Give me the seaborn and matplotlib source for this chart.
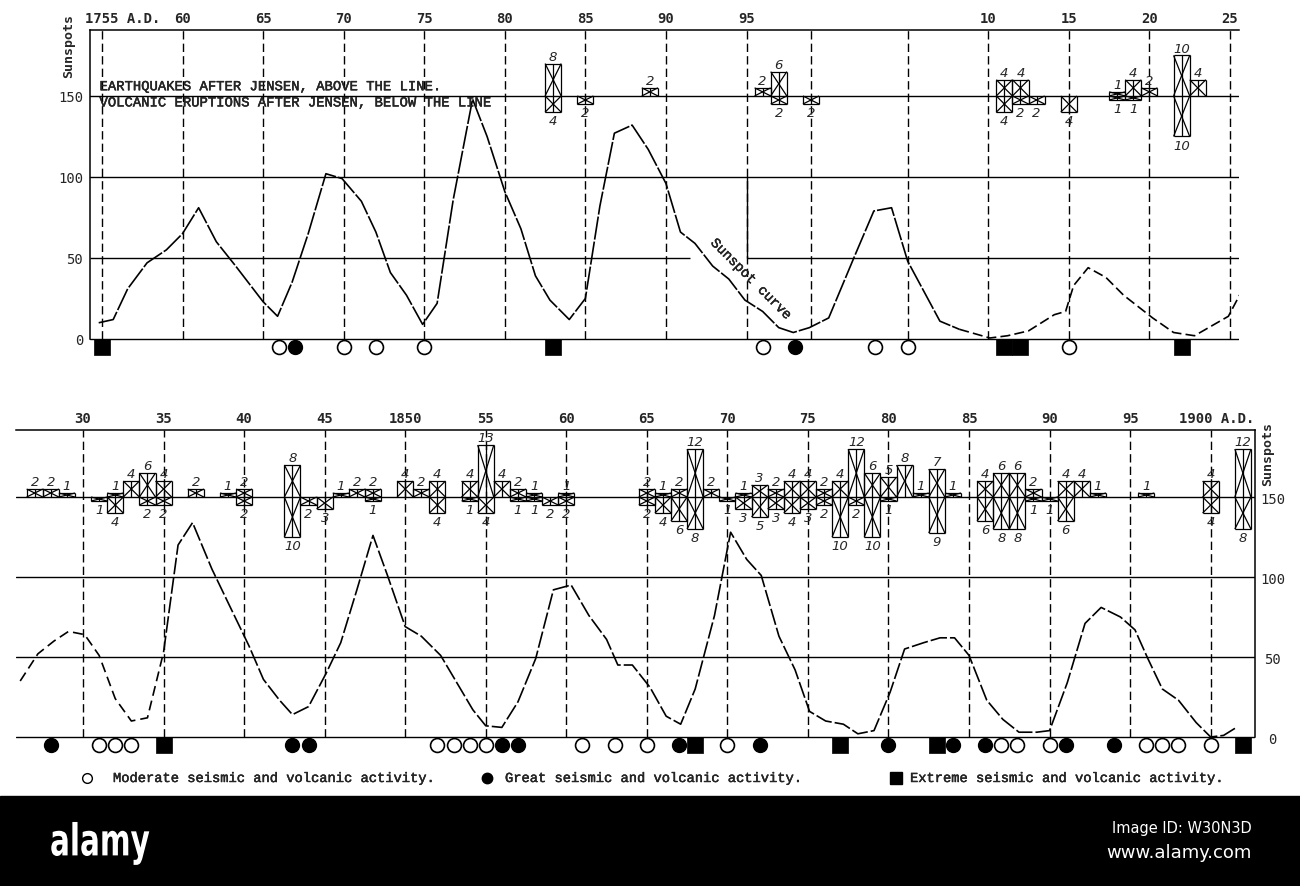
import matplotlib
matplotlib.use('Agg')
import matplotlib.pyplot as plt
import matplotlib.patheffects as pe
from matplotlib.collections import LineCollection
from matplotlib.patches import Rectangle, PathPatch
from matplotlib.lines import Line2D
from matplotlib.textpath import TextPath
from matplotlib.font_manager import FontProperties
from matplotlib.transforms import Affine2D, IdentityTransform
import numpy as np
import seaborn as sns

# sunspot curve, upper panel 1755-1825
top_years = [1754.8, 1755.7, 1756.6, 1757.8, 1759.0, 1760.0, 1761.0, 1762.1, 1763.3, 1765.0,
             1765.9, 1766.8, 1767.8, 1768.9, 1769.9, 1771.1, 1772.0, 1772.9, 1773.9, 1774.9,
             1775.8, 1776.8, 1778.0, 1778.9, 1780.0, 1781.0, 1781.9, 1782.8, 1784.0, 1785.0,
             1785.9, 1786.8, 1787.9, 1788.9, 1790.0, 1790.9, 1791.8, 1792.9, 1793.9, 1794.9,
             1796.0, 1797.0, 1797.9, 1798.9, 1800.1, 1801.7, 1802.9, 1804.0, 1805.0, 1807.0,
             1808.2, 1810.1, 1811.2, 1812.5, 1814.1, 1814.8, 1815.3, 1816.2, 1817.3, 1818.4,
             1820.2, 1821.5, 1822.8, 1824.9, 1825.7]
top_spots = [10, 12, 31, 47, 55, 65, 81, 60, 45, 23,
             14, 35, 65, 102, 99, 85, 66, 41, 27, 9,
             22, 86, 148, 125, 91, 68, 39, 24, 12, 25,
             82, 127, 132, 117, 96, 66, 59, 45, 37, 24,
             17, 7, 4, 7, 13, 51, 79, 81, 48, 11,
             6, 0.6, 2, 5, 15, 17, 33, 44, 38, 27,
             13, 4, 2, 14, 29]

# lower panel 1826-1902
bot_years = [1826.1, 1827.2, 1828.2, 1829.1, 1830.1, 1831.0, 1832.0, 1833.0, 1834.0, 1835.0,
             1835.9, 1836.8, 1838.0, 1839.1, 1840.3, 1841.2, 1842.2, 1843.0, 1844.0, 1845.1,
             1846.0, 1847.0, 1848.0, 1848.9, 1850.0, 1851.0, 1852.2, 1853.2, 1854.2, 1855.0,
             1856.0, 1857.0, 1858.1, 1859.2, 1860.3, 1861.4, 1862.5, 1863.2, 1864.1, 1865.2,
             1866.2, 1867.1, 1868.0, 1869.2, 1870.2, 1871.2, 1872.1, 1873.2, 1874.2, 1875.1,
             1876.1, 1877.2, 1878.1, 1879.1, 1880.1, 1881.0, 1882.2, 1883.2, 1884.1, 1885.0,
             1886.1, 1887.1, 1888.1, 1889.2, 1890.0, 1891.1, 1892.2, 1893.2, 1894.4, 1895.3,
             1896.1, 1897.0, 1898.0, 1899.1, 1900.0, 1900.8, 1901.6]
bot_spots = [35, 52, 60, 66, 64, 51, 24, 10, 12, 53,
             120, 134, 105, 82, 57, 36, 23, 14, 19, 40,
             59, 92, 126, 101, 69, 63, 51, 34, 17, 7,
             6, 22, 49, 92, 95, 76, 61, 45, 45, 31,
             13, 8, 30, 76, 128, 111, 101, 63, 42, 16,
             10, 8, 2, 4, 28, 55, 59, 62, 62, 51,
             23, 11, 3, 3, 4, 34, 71, 81, 75, 67,
             49, 30, 23, 9, 0, 1, 6]

# earthquakes (above the 150 line) and volcanic eruptions (below it), after Jensen
top_box_years = [1783, 1785, 1789, 1796, 1797, 1799, 1811, 1812, 1813, 1815, 1818, 1819, 1820, 1822, 1823]
top_quakes    = [8, 0, 2, 2, 6, 0, 4, 4, 0, 0, 1, 4, 2, 10, 4]
top_erupts    = [4, 2, 0, 0, 2, 2, 4, 2, 2, 4, 1, 1, 0, 10, 0]

bot_box_years = [1827, 1828, 1829, 1831, 1832, 1833, 1834, 1835, 1837, 1839, 1840, 1843, 1844,
                 1845, 1846, 1847, 1848, 1850, 1851, 1852, 1854, 1855, 1856, 1857, 1858, 1859,
                 1860, 1865, 1866, 1867, 1868, 1869, 1870, 1871, 1872, 1873, 1874, 1875, 1876,
                 1877, 1878, 1879, 1880, 1881, 1882, 1883, 1884, 1886, 1887, 1888, 1889, 1890,
                 1891, 1892, 1893, 1896, 1900, 1902]
bot_quakes    = [2, 2, 1, 0, 1, 4, 6, 4, 2, 1, 2, 8, 0,
                 0, 1, 2, 2, 4, 2, 4, 4, 13, 4, 2, 1, 0,
                 1, 2, 1, 2, 12, 2, 0, 1, 3, 2, 4, 4, 2,
                 4, 12, 6, 5, 8, 1, 7, 1, 4, 6, 6, 2, 0,
                 4, 4, 1, 1, 4, 12]
bot_erupts    = [0, 0, 0, 1, 4, 0, 2, 2, 0, 0, 2, 10, 2,
                 3, 0, 0, 1, 0, 0, 4, 1, 4, 0, 1, 1, 2,
                 2, 2, 4, 6, 8, 0, 1, 3, 5, 3, 4, 3, 2,
                 10, 2, 10, 1, 0, 0, 9, 0, 6, 8, 8, 1, 1,
                 6, 0, 0, 0, 4, 8]

# seismic / volcanic activity marks under the zero line
top_moderate = [1766, 1770, 1772, 1775, 1796, 1803, 1805, 1815]
top_great    = [1767, 1798]
top_extreme  = [1755, 1783, 1811, 1812, 1822]
bot_moderate = [1831, 1832, 1833, 1852, 1853, 1854, 1855, 1861, 1863, 1865, 1870,
                1887, 1888, 1890, 1896, 1897, 1898, 1900]
bot_great    = [1828, 1843, 1844, 1856, 1857, 1867, 1872, 1880, 1884, 1886, 1891, 1894]
bot_extreme  = [1835, 1868, 1877, 1883, 1902]

top_grid_years = [1755, 1760, 1765, 1770, 1775, 1780, 1785, 1790, 1795, 1799, 1805,
                  1810, 1815, 1820, 1825]
top_tick_years = [1760, 1765, 1770, 1775, 1780, 1785, 1790, 1795, 1810, 1815, 1820, 1825]
top_tick_labels = ['60', '65', '70', '75', '80', '85', '90', '95', '10', '15', '20', '25']
bot_grid_years = [1830, 1835, 1840, 1845, 1850, 1855, 1860, 1865, 1870, 1875, 1880,
                  1885, 1890, 1895, 1900]
bot_tick_years = [1830, 1835, 1840, 1845, 1850, 1855, 1860, 1865, 1870, 1875, 1880,
                  1885, 1890, 1895]
bot_tick_labels = ['30', '35', '40', '45', '1850', '55', '60', '65', '70', '75', '80',
                   '85', '90', '95']
spot_ticks = [0, 50, 100, 150]
spot_tick_labels = ['0', '50', '100', '150']

LINE = 150      # the earthquake / eruption base line
UNIT = 2.5      # sunspot units per event drawn in a box
BOX_W = 1.0
MARK_Y = -5

sns.set_style('white')
plt.rcParams['font.family'] = ['Liberation Mono', 'DejaVu Sans']

W, H = 1300, 887
fig = plt.figure(figsize=(13, 8.87), dpi=100)

# upper panel, 1755-1825
ax1 = fig.add_axes([90 / W, (H - 357.8) / H, 1149 / W, (357.8 - 31) / H])
ax1.set_xlim(1754.26, 1825.56)
ax1.set_ylim(-11, 190.7)
# lower panel, 1826-1902
ax2 = fig.add_axes([16 / W, (H - 756.4) / H, 1238.5 / W, (756.4 - 431) / H])
ax2.set_xlim(1825.84, 1902.72)
ax2.set_ylim(-11.5, 191.9)

tick_font = dict(family='DejaVu Sans Mono', fontweight='bold', fontsize=10)
hand = dict(family='DejaVu Sans', fontstyle='italic', fontsize=9.5)
# typewriter ink is a little heavier than Liberation Mono
ink = [pe.withStroke(linewidth=0.3, foreground='k')]


def draw_frame(ax, grid_years, side):
    top = ax.get_ylim()[1]
    for s in ax.spines.values():
        s.set_visible(False)
    ax.spines['top'].set_visible(True)
    ax.spines[side].set_visible(True)
    ax.spines[side].set_bounds(0, top)
    for s in ax.spines.values():
        s.set_linewidth(1.1)
        s.set_color('k')
    ax.vlines(grid_years, 0, top, colors='k', linewidth=1.0, linestyles=(0, (6, 3)), zorder=1)
    for v in [0, 100, 150]:
        ax.axhline(v, color='k', lw=1.0, zorder=1)


def draw_curve(ax, years, spots, split, style_a, style_b):
    yrs = np.array(years)
    sp = np.array(spots)
    a = yrs <= split
    b = yrs >= split
    sns.lineplot(x=yrs[a], y=sp[a], ax=ax, color='k', lw=1.2, linestyle=style_a,
                 sort=False, estimator=None, zorder=3)
    sns.lineplot(x=yrs[b], y=sp[b], ax=ax, color='k', lw=1.2, linestyle=style_b,
                 sort=False, estimator=None, zorder=3)


def draw_boxes(ax, years, quakes, erupts):
    segs = []
    for yr, up, dn in zip(years, quakes, erupts):
        for n, sgn in ((up, 1), (dn, -1)):
            if n == 0:
                continue
            x0, x1 = yr - BOX_W / 2, yr + BOX_W / 2
            y0, y1 = LINE, LINE + sgn * n * UNIT
            segs += [[(x0, y0), (x0, y1)], [(x0, y1), (x1, y1)], [(x1, y1), (x1, y0)],
                     [(x0, y0), (x1, y1)], [(x0, y1), (x1, y0)], [(yr, y0), (yr, y1)]]
            ax.annotate(str(n), (yr, y1), xytext=(0, 0.5 if sgn > 0 else -1.5),
                        textcoords='offset points', ha='center',
                        va='bottom' if sgn > 0 else 'top', **hand)
    ax.add_collection(LineCollection(segs, colors='k', linewidths=0.9, zorder=4))


def draw_marks(ax, moderate, great, extreme):
    kw = dict(ax=ax, clip_on=False, zorder=5, edgecolor='k', legend=False)
    sns.scatterplot(x=moderate, y=[MARK_Y] * len(moderate), marker='o', s=100,
                    color='white', linewidth=1.2, **kw)
    sns.scatterplot(x=great, y=[MARK_Y] * len(great), marker='o', s=100,
                    color='k', linewidth=1.0, **kw)
    sns.scatterplot(x=extreme, y=[MARK_Y] * len(extreme), marker='s', s=130,
                    color='k', linewidth=0.5, **kw)


# ---- upper panel ----
draw_frame(ax1, top_grid_years, 'left')
ax1.hlines([50, 50], [1754.26, 1795], [1791.5, 1825.56], colors='k', lw=1.0, zorder=1)
ax1.vlines(1795, 50, 100, colors='k', lw=1.0, zorder=1)
draw_curve(ax1, top_years, top_spots, 1808.2, (0, (14, 1.2)), (0, (6, 2.5)))
draw_boxes(ax1, top_box_years, top_quakes, top_erupts)
draw_marks(ax1, top_moderate, top_great, top_extreme)

ax1.xaxis.tick_top()
ax1.set_xticks(top_tick_years, top_tick_labels, **tick_font)
ax1.set_yticks(spot_ticks, spot_tick_labels, family='DejaVu Sans Mono', fontsize=10)
ax1.tick_params(length=0)
ax1.tick_params(axis='x', pad=3.5)
ax1.tick_params(axis='y', pad=5)
ax1.set_xlabel('')
ax1.set_ylabel('')
ax1.annotate('1755 A.D.', xy=(1755, 1), xycoords=('data', 'axes fraction'),
             xytext=(-12, 3.5), textcoords='offset points', ha='left', va='bottom',
             **tick_font)
ax1.text(1754.85, 156, 'EARTHQUAKES AFTER JENSEN, ABOVE THE LINE.', va='center',
         fontsize=10, path_effects=ink)
ax1.text(1754.85, 146, 'VOLCANIC ERUPTIONS AFTER JENSEN, BELOW THE LINE', va='center',
         fontsize=10, path_effects=ink)
ax1.text(1795.3, 37, 'Sunspot curve', rotation=-45, rotation_mode='anchor',
         ha='center', va='center', fontsize=10, path_effects=ink)

# ---- lower panel ----
draw_frame(ax2, bot_grid_years, 'right')
ax2.axhline(50, color='k', lw=1.0, zorder=1)
draw_curve(ax2, bot_years, bot_spots, 1835.0, (0, (6, 3)), (0, (10, 1.8)))
draw_boxes(ax2, bot_box_years, bot_quakes, bot_erupts)
draw_marks(ax2, bot_moderate, bot_great, bot_extreme)

ax2.xaxis.tick_top()
ax2.yaxis.tick_right()
ax2.set_xticks(bot_tick_years, bot_tick_labels, **tick_font)
ax2.set_yticks(spot_ticks, spot_tick_labels, family='DejaVu Sans Mono', fontsize=10)
for t in ax2.get_yticklabels():
    t.set_horizontalalignment('center')
ax2.tick_params(length=0)
ax2.tick_params(axis='x', pad=3.5)
ax2.tick_params(axis='y', pad=13)
ax2.set_xlabel('')
ax2.set_ylabel('')
ax2.annotate('1900 A.D.', xy=(1, 1), xycoords='axes fraction', xytext=(0, 3.5),
             textcoords='offset points', ha='right', va='bottom', **tick_font)

fig.text(68.5 / W, (H - 45.5) / H, 'Sunspots', rotation=90, ha='center', va='center',
         family='DejaVu Sans Mono', fontweight='bold', fontsize=9.5)
fig.text(1268 / W, (H - 454.5) / H, 'Sunspots', rotation=90, ha='center', va='center',
         family='DejaVu Sans Mono', fontweight='bold', fontsize=9.5)

# ---- key ----
ky = (H - 779) / H
fig.add_artist(Line2D([87 / W], [ky], marker='o', ms=7, mfc='white', mec='k', mew=1.0,
                      transform=fig.transFigure))
fig.text(113 / W, ky, 'Moderate seismic and volcanic activity.', va='center', fontsize=9.9,
         path_effects=ink)
fig.add_artist(Line2D([487 / W], [ky], marker='o', ms=7.5, mfc='k', mec='k',
                      transform=fig.transFigure))
fig.text(505 / W, ky, 'Great seismic and volcanic activity.', va='center', fontsize=9.9,
         path_effects=ink)
fig.add_artist(Line2D([896 / W], [ky], marker='s', ms=8, mfc='k', mec='k',
                      transform=fig.transFigure))
fig.text(910 / W, ky, 'Extreme seismic and volcanic activity.', va='center', fontsize=9.9,
         path_effects=ink)

# ---- stock-photo strip along the bottom ----
fig.add_artist(Rectangle((0, 0), 1, 90 / H, transform=fig.transFigure, color='k', zorder=0))
# condensed bold wordmark: squeeze a bold text path horizontally (pixel coordinates)
logo = TextPath((0, 0), 'alamy', size=44,
                prop=FontProperties(family='DejaVu Sans', weight='bold'))
fig.add_artist(PathPatch(logo, color='white', lw=0,
                         transform=Affine2D().scale(0.67, 1.0).translate(50, 30.6)
                         + IdentityTransform()))
fig.text(1252 / W, (H - 829) / H, 'Image ID: W30N3D', color='white', fontsize=10.5,
         family='DejaVu Sans', ha='right', va='center')
fig.text(1252 / W, (H - 853) / H, 'www.alamy.com', color='white', fontsize=13,
         family='DejaVu Sans', ha='right', va='center')

fig.savefig('out.png', dpi=100, facecolor='white')
